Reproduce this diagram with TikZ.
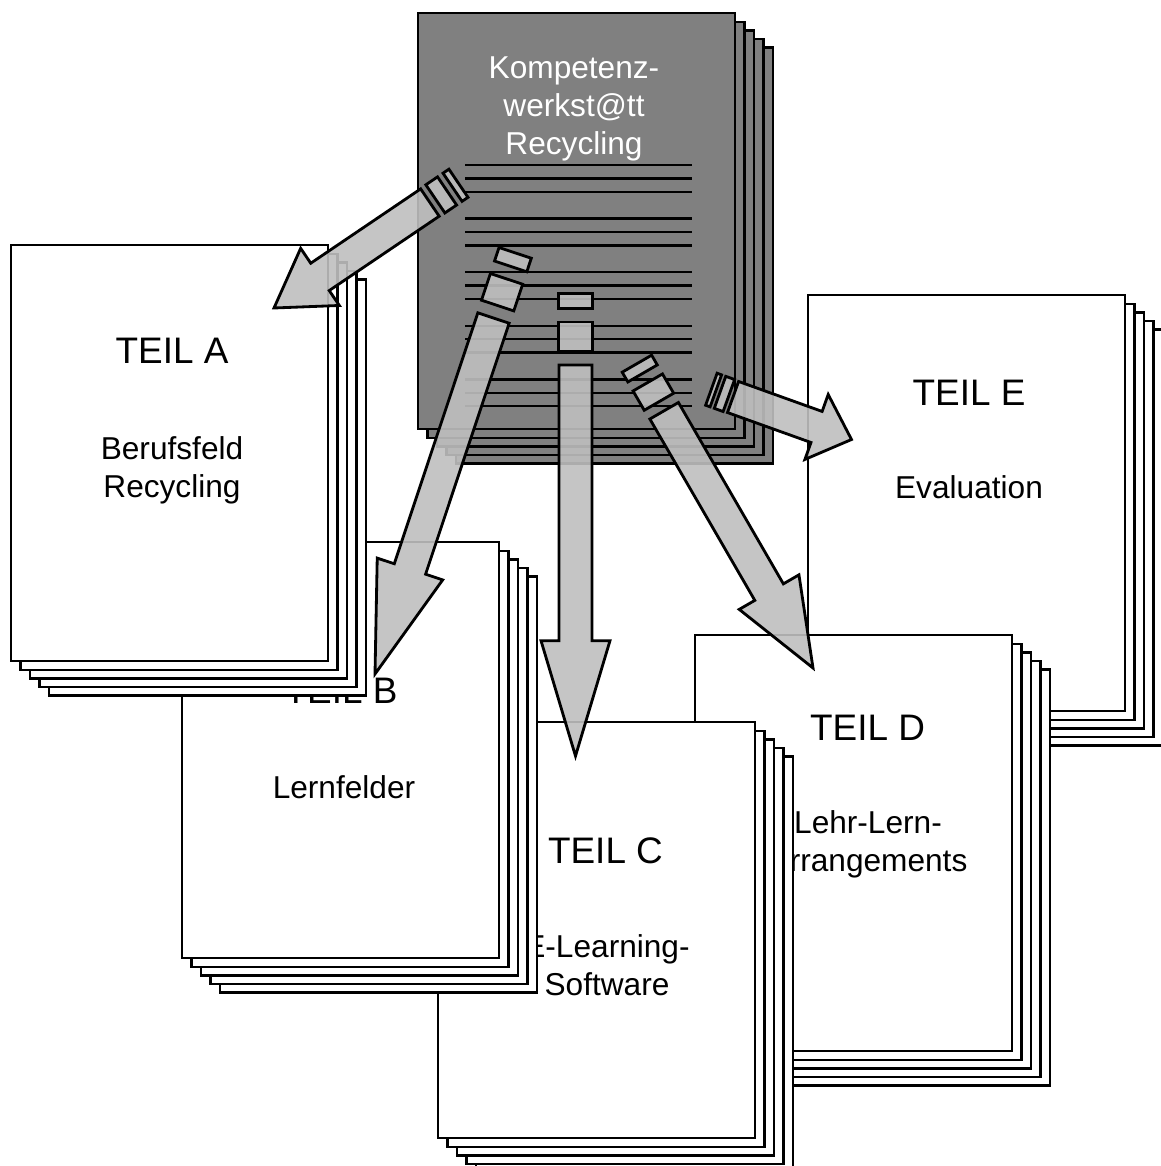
\documentclass[tikz,border=0pt]{standalone}
\usepackage{fontspec}
\setmainfont{Liberation Sans}
\usetikzlibrary{calc}

\tikzset{
  page/.style={draw, line width=0.7pt, fill=white, minimum width=3.17cm,
    minimum height=4.16cm, anchor=north west, inner sep=0pt},
  teil/.style={font=\fontsize{10.5}{12.6}\selectfont, anchor=base},
  blurb/.style={font=\fontsize{9}{10.8}\selectfont, align=center, anchor=base},
  arrowbody/.style={draw, line width=0.8pt, fill=black!25, fill opacity=0.9,
    line join=miter}
}

% a pile of five sheets, the named one on top
\newcommand\pagestack[3][white]{%
  \foreach \k in {4,3,2,1}
    \node[page, fill=#1] at ($(#3)+(\k*0.094,-\k*0.086)$) {};
  \node[page, fill=#1] (#2) at (#3) {};
}

% broad arrow from shaft end #1 to tip #2, with two loose bits behind
\newcommand\bigarrow[2]{%
  \path let \p1=(#1), \p2=(#2) in
    \pgfextra{\pgfmathsetmacro\arrang{atan2(\y2-\y1,\x2-\x1)}%
      \pgfmathsetmacro\arrlen{veclen(\x2-\x1,\y2-\y1)}%
      \xdef\arrang{\arrang}\xdef\arrlen{\arrlen}};
  \begin{scope}[shift={(#2)}, rotate=\arrang]
    \draw[arrowbody] (0,0) -- (-0.295*\arrlen pt,0.345cm)
      -- (-0.295*\arrlen pt,0.165cm) -- (-\arrlen pt,0.165cm)
      -- (-\arrlen pt,-0.165cm) -- (-0.295*\arrlen pt,-0.165cm)
      -- (-0.295*\arrlen pt,-0.345cm) -- cycle;
    \draw[arrowbody] (-1.035*\arrlen pt,-0.17cm) rectangle (-1.11*\arrlen pt,0.17cm);
    \draw[arrowbody] (-1.145*\arrlen pt,-0.17cm) rectangle (-1.183*\arrlen pt,0.17cm);
  \end{scope}}

\begin{document}
\begin{tikzpicture}
  \useasboundingbox (0,0) rectangle (11.61,-11.66);

  % Teil E
  \pagestack{teilE}{8.07,-2.94}
  \node[teil] (tE) at (9.69,-4.05) {TEIL E};
  \node[blurb] (sE) at (9.69,-4.98) {Evaluation};

  % Teil D
  \pagestack{teilD}{6.94,-6.34}
  \node[teil] (tD) at (8.675,-7.40) {TEIL D};
  \node[blurb] (sD) at (8.68,-8.71) {Lehr-Lern-\\Arrangements};

  % Teil C
  \pagestack{teilC}{4.37,-7.21}
  \node[teil] (tC) at (6.055,-8.63) {TEIL C};
  \node[blurb] (sC) at (6.07,-9.95) {E-Learning-\\Software};

  % Teil B
  \pagestack{teilB}{1.81,-5.41}
  \node[teil] (tB) at (3.41,-7.03) {TEIL B};
  \node[blurb] (sB) at (3.44,-7.98) {Lernfelder};

  % Teil A
  \pagestack{teilA}{0.10,-2.44}
  \node[teil] (tA) at (1.72,-3.63) {TEIL A};
  \node[blurb] (sA) at (1.72,-4.97) {Berufsfeld\\Recycling};

  % Kompetenzwerkstatt
  \pagestack[black!50]{komp}{4.17,-0.12}
  \node[blurb, text=white] (kw) at (5.74,-1.54) {Kompetenz-\\werkst@tt\\Recycling};
  \foreach \n in {0,1,2,4,5,6,8,9,10,12,13,14,16,17,18}
    \draw[line width=0.7pt] (4.65,-1.65-0.134*\n) -- (6.92,-1.65-0.134*\n);

  % Arrows
  \coordinate (outA) at (4.30,-2.025);
  \coordinate (inA) at (2.74,-3.08);
  \coordinate (outB) at (4.935,-3.18);
  \coordinate (inB) at (3.75,-6.74);
  \coordinate (outC) at (5.755,-3.65);
  \coordinate (inC) at (5.755,-7.56);
  \coordinate (outD) at (6.64,-4.105);
  \coordinate (inD) at (8.13,-6.68);
  \coordinate (outE) at (7.33,-3.97);
  \coordinate (inE) at (8.515,-4.395);
  \bigarrow{outA}{inA}
  \bigarrow{outB}{inB}
  \bigarrow{outC}{inC}
  \bigarrow{outD}{inD}
  \bigarrow{outE}{inE}
\end{tikzpicture}
\end{document}
